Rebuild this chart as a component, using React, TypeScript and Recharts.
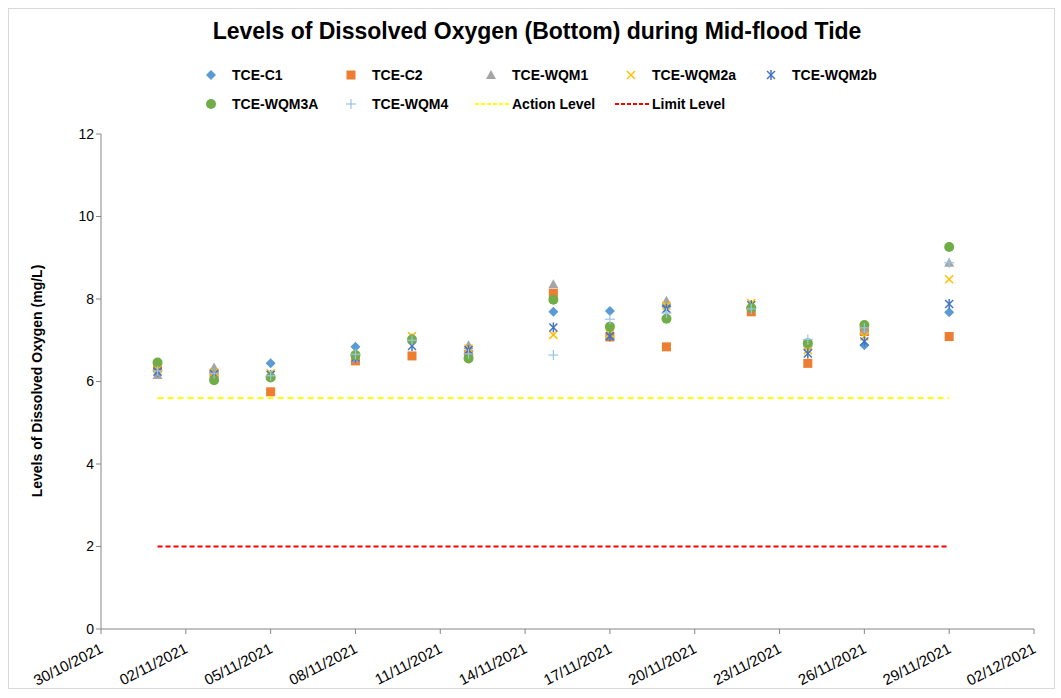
import React from "react";
import { ScatterChart, Scatter, XAxis, YAxis } from "recharts";

const DATES = [
  "01/11/2021", "03/11/2021", "05/11/2021", "08/11/2021", "10/11/2021",
  "12/11/2021", "15/11/2021", "17/11/2021", "19/11/2021", "22/11/2021",
  "24/11/2021", "26/11/2021", "29/11/2021",
];

const C1 = [6.28, 6.22, 6.44, 6.84, 7.0, 6.72, 7.69, 7.71, 7.82, 7.8, 6.86, 6.88, 7.68];
const C2 = [6.34, 6.2, 5.75, 6.5, 6.62, 6.65, 8.14, 7.08, 6.84, 7.69, 6.44, 7.21, 7.09];
const WQM1 = [6.16, 6.34, 6.14, 6.56, 7.06, 6.88, 8.36, 7.12, 7.96, 7.86, 6.86, 7.25, 8.88];
const WQM2A = [6.3, 6.22, 6.2, 6.6, 7.1, 6.8, 7.13, 7.16, 7.84, 7.9, 6.76, 7.09, 8.48];
const WQM2B = [6.24, 6.18, 6.16, 6.58, 6.86, 6.76, 7.31, 7.1, 7.76, 7.85, 6.68, 6.97, 7.88];
const WQM3A = [6.46, 6.03, 6.1, 6.64, 7.02, 6.56, 7.98, 7.33, 7.52, 7.78, 6.93, 7.37, 9.26];
const WQM4 = [6.26, 6.2, 6.14, 6.66, 7.0, 6.67, 6.64, 7.51, 7.66, 7.76, 7.02, 7.3, 8.88];

const ACTION_LEVEL = 5.6;
const LIMIT_LEVEL = 2;

const X_TICK_DATES = [
  "30/10/2021", "02/11/2021", "05/11/2021", "08/11/2021", "11/11/2021", "14/11/2021",
  "17/11/2021", "20/11/2021", "23/11/2021", "26/11/2021", "29/11/2021", "02/12/2021",
];
const Y_TICKS = [0, 2, 4, 6, 8, 10, 12];

const FONT = "'Liberation Sans Narrow', 'Liberation Sans', sans-serif";

const toDay = (s: string) => {
  const [d, m, y] = s.split("/").map(Number);
  return Date.UTC(y, m - 1, d) / 86400000;
};
const fmtDay = (v: number) => {
  const dt = new Date(v * 86400000);
  const dd = String(dt.getUTCDate()).padStart(2, "0");
  const mm = String(dt.getUTCMonth() + 1).padStart(2, "0");
  return `${dd}/${mm}/${dt.getUTCFullYear()}`;
};

const xTicks = X_TICK_DATES.map(toDay);
const pts = (vals: number[]) => vals.map((y, i) => ({ x: toDay(DATES[i]), y }));
const level = (v: number) => [
  { x: toDay(DATES[0]), y: v },
  { x: toDay(DATES[DATES.length - 1]), y: v },
];

// marker shapes
const Diamond = ({ cx, cy }: any) => (
  <polygon points={`${cx},${cy - 5} ${cx + 5},${cy} ${cx},${cy + 5} ${cx - 5},${cy}`} fill="#5b9bd5" />
);
const Square = ({ cx, cy }: any) => (
  <rect x={cx - 4.5} y={cy - 4.5} width={9} height={9} fill="#ed7d31" />
);
const Triangle = ({ cx, cy }: any) => (
  <polygon points={`${cx},${cy - 5} ${cx + 5},${cy + 4} ${cx - 5},${cy + 4}`} fill="#a5a5a5" />
);
const XMark = ({ cx, cy }: any) => (
  <g stroke="#ffc000" strokeWidth={1.5}>
    <line x1={cx - 4} y1={cy - 4} x2={cx + 4} y2={cy + 4} />
    <line x1={cx - 4} y1={cy + 4} x2={cx + 4} y2={cy - 4} />
  </g>
);
const Star = ({ cx, cy }: any) => (
  <g stroke="#4472c4" strokeWidth={1.5}>
    <line x1={cx - 4} y1={cy - 4} x2={cx + 4} y2={cy + 4} />
    <line x1={cx - 4} y1={cy + 4} x2={cx + 4} y2={cy - 4} />
    <line x1={cx} y1={cy - 5} x2={cx} y2={cy + 5} />
  </g>
);
const Dot = ({ cx, cy }: any) => <circle cx={cx} cy={cy} r={5} fill="#70ad47" />;
const Plus = ({ cx, cy }: any) => (
  <g stroke="#9dc3e6" strokeWidth={1.2}>
    <line x1={cx - 5} y1={cy} x2={cx + 5} y2={cy} />
    <line x1={cx} y1={cy - 5} x2={cx} y2={cy + 5} />
  </g>
);
const NoShape = () => <g />;

const legendItems = [
  { name: "TCE-C1", Shape: Diamond, col: 0, row: 0 },
  { name: "TCE-C2", Shape: Square, col: 1, row: 0 },
  { name: "TCE-WQM1", Shape: Triangle, col: 2, row: 0 },
  { name: "TCE-WQM2a", Shape: XMark, col: 3, row: 0 },
  { name: "TCE-WQM2b", Shape: Star, col: 4, row: 0 },
  { name: "TCE-WQM3A", Shape: Dot, col: 0, row: 1 },
  { name: "TCE-WQM4", Shape: Plus, col: 1, row: 1 },
  { name: "Action Level", dash: "#ffff00", col: 2, row: 1 },
  { name: "Limit Level", dash: "#ff0000", col: 3, row: 1 },
];

const XTick = ({ x, y, payload }: any) => (
  <text
    x={x + 3}
    y={y + 16}
    transform={`rotate(-27 ${x + 3} ${y + 16})`}
    textAnchor="end"
    fontSize={15}
    fontFamily={FONT}
    fill="#000"
  >
    {fmtDay(payload.value)}
  </text>
);

const YLabel = () => (
  <text
    x={42}
    y={381}
    transform="rotate(-90 42 381)"
    textAnchor="middle"
    fontSize={14}
    fontWeight="bold"
    fontFamily={FONT}
    fill="#000"
  >
    Levels of Dissolved Oxygen (mg/L)
  </text>
);

export default function App() {
  return (
    <div style={{ position: "absolute", left: 0, top: 0, width: 1061, height: 698, background: "#fff" }}>
      <div
        style={{
          position: "absolute", left: 8, top: 8, width: 1047, height: 681,
          border: "1px solid #d9d9d9", boxSizing: "border-box",
        }}
      />
      <div
        style={{
          position: "absolute", left: 0, top: 18, width: 1074, textAlign: "center",
          fontFamily: FONT, fontWeight: "bold", fontSize: 23, color: "#000",
        }}
      >
        Levels of Dissolved Oxygen (Bottom) during Mid-flood Tide
      </div>
      <svg style={{ position: "absolute", left: 0, top: 0 }} width={1061} height={130}>
        {legendItems.map((it) => {
          const mx = 211 + it.col * 140;
          const my = 75 + it.row * 29;
          return (
            <g key={it.name}>
              {it.Shape ? (
                <it.Shape cx={mx} cy={my} />
              ) : (
                <line x1={mx - 16} y1={my} x2={mx + 19} y2={my} stroke={it.dash} strokeWidth={2} strokeDasharray="4 2" />
              )}
              <text x={mx + 21} y={my + 5} fontSize={14} fontWeight="bold" fontFamily={FONT} fill="#000">
                {it.name}
              </text>
            </g>
          );
        })}
      </svg>
      <div style={{ position: "absolute", left: 0, top: 0 }}>
        <ScatterChart width={1061} height={698} margin={{ top: 134, right: 27, bottom: 9, left: 20 }}>
          <XAxis
            type="number"
            dataKey="x"
            domain={[xTicks[0], xTicks[xTicks.length - 1]]}
            ticks={xTicks}
            interval={0}
            height={60}
            tick={<XTick />}
            tickSize={5}
            stroke="#868686"
          />
          <YAxis
            type="number"
            dataKey="y"
            domain={[0, 12]}
            ticks={Y_TICKS}
            width={81}
            tickSize={5}
            stroke="#868686"
            tick={{ fill: "#000", fontSize: 14, fontFamily: FONT }}
          />
          <Scatter name="Action Level" data={level(ACTION_LEVEL)} fill="#ffff00" shape={<NoShape />}
            line={{ stroke: "#ffff00", strokeWidth: 2, strokeDasharray: "6 4" }} isAnimationActive={false} />
          <Scatter name="Limit Level" data={level(LIMIT_LEVEL)} fill="#ff0000" shape={<NoShape />}
            line={{ stroke: "#ff0000", strokeWidth: 2, strokeDasharray: "5 3" }} isAnimationActive={false} />
          <Scatter name="TCE-C1" data={pts(C1)} shape={<Diamond />} isAnimationActive={false} />
          <Scatter name="TCE-C2" data={pts(C2)} shape={<Square />} isAnimationActive={false} />
          <Scatter name="TCE-WQM1" data={pts(WQM1)} shape={<Triangle />} isAnimationActive={false} />
          <Scatter name="TCE-WQM2a" data={pts(WQM2A)} shape={<XMark />} isAnimationActive={false} />
          <Scatter name="TCE-WQM2b" data={pts(WQM2B)} shape={<Star />} isAnimationActive={false} />
          <Scatter name="TCE-WQM3A" data={pts(WQM3A)} shape={<Dot />} isAnimationActive={false} />
          <Scatter name="TCE-WQM4" data={pts(WQM4)} shape={<Plus />} isAnimationActive={false} />
          <YLabel />
        </ScatterChart>
      </div>
    </div>
  );
}
